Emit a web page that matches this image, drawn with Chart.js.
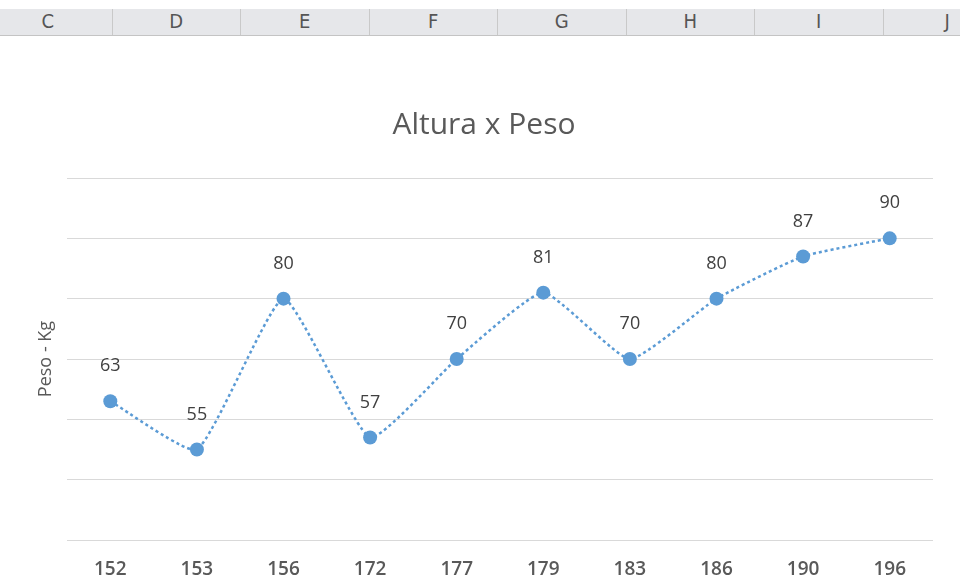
<!DOCTYPE html>
<html>
<head>
<meta charset="utf-8">
<script src="https://cdn.jsdelivr.net/npm/chart.js@4"></script>
<style>
html, body { margin: 0; padding: 0; background: #fff; }
#wrap { position: relative; width: 960px; height: 581px; overflow: hidden; }
#cols { position: absolute; left: 0; top: 9px; width: 960px; height: 26px; background: #e6e7ea; border-bottom: 1px solid #c4c4c4; z-index: 2; }
.col { position: absolute; top: 0; height: 26px; line-height: 26px; text-align: center; color: #555;
       font: 20px 'Liberation Sans Narrow', 'DejaVu Sans Condensed', sans-serif; border-right: 1px solid #c9c9c9; box-sizing: border-box; }
canvas { position: absolute; left: 0; top: 0; }
</style>
</head>
<body>
<div id="wrap">
  <div id="cols"></div>
  <canvas id="chart" width="960" height="581"></canvas>
</div>
<script>
// dados
const alturas = ['152', '153', '156', '172', '177', '179', '183', '186', '190', '196'];
const pesos = [63, 55, 80, 57, 70, 81, 70, 80, 87, 90];
const colunas = ['C', 'D', 'E', 'F', 'G', 'H', 'I', 'J'];

// cabeçalho da planilha
const cols = document.getElementById('cols');
colunas.forEach((letra, i) => {
    const d = document.createElement('div');
    d.className = 'col';
    d.style.left = (-16 + i * 128.5) + 'px';
    d.style.width = '128.5px';
    d.textContent = letra;
    cols.appendChild(d);
});

// rótulos dos valores acima dos pontos
const rotulos = {
    id: 'rotulos',
    afterDatasetsDraw(chart) {
        const ctx = chart.ctx;
        const meta = chart.getDatasetMeta(0);
        ctx.save();
        ctx.font = '18px "Open Sans", sans-serif';
        ctx.fillStyle = '#404040';
        ctx.textAlign = 'center';
        ctx.textBaseline = 'middle';
        meta.data.forEach((p, i) => {
            ctx.fillText(pesos[i], p.x, p.y - 35);
        });
        ctx.restore();
    }
};

const ctx = document.getElementById('chart').getContext('2d');
let myChart = new Chart(ctx, {
    type: 'line',
    data: {
        labels: alturas,
        datasets: [{
            label: 'Peso',
            data: pesos,
            borderColor: '#5b9bd5',
            backgroundColor: '#5b9bd5',
            borderWidth: 2.5,
            borderDash: [3, 3],
            pointRadius: 7,
            pointBorderWidth: 0,
            tension: 0.15
        }]
    },
    options: {
        responsive: false,
        animation: false,
        layout: { padding: { left: 35, right: 27, top: 0, bottom: 0 } },
        plugins: {
            legend: { display: false },
            tooltip: { enabled: false },
            title: {
                display: true,
                text: 'Altura x Peso',
                color: '#595959',
                font: { family: 'Open Sans', size: 30, weight: 'normal' },
                padding: { top: 107, bottom: 35 }
            }
        },
        scales: {
            x: {
                offset: true,
                grid: { display: false },
                border: { display: false },
                ticks: {
                    color: '#595959',
                    padding: 10,
                    font: { family: 'Open Sans', size: 19, weight: '600' }
                },
                afterFit(s) { s.height = 41; }
            },
            y: {
                min: 40,
                max: 100,
                ticks: { display: false, stepSize: 10 },
                grid: { color: '#d9d9d9', drawTicks: false },
                border: { display: false },
                title: {
                    display: true,
                    text: 'Peso - Kg',
                    color: '#595959',
                    padding: 0,
                    font: { family: 'Open Sans', size: 18 }
                },
                afterFit(s) { s.width = 32; }
            }
        }
    },
    plugins: [rotulos]
});
</script>
</body>
</html>
